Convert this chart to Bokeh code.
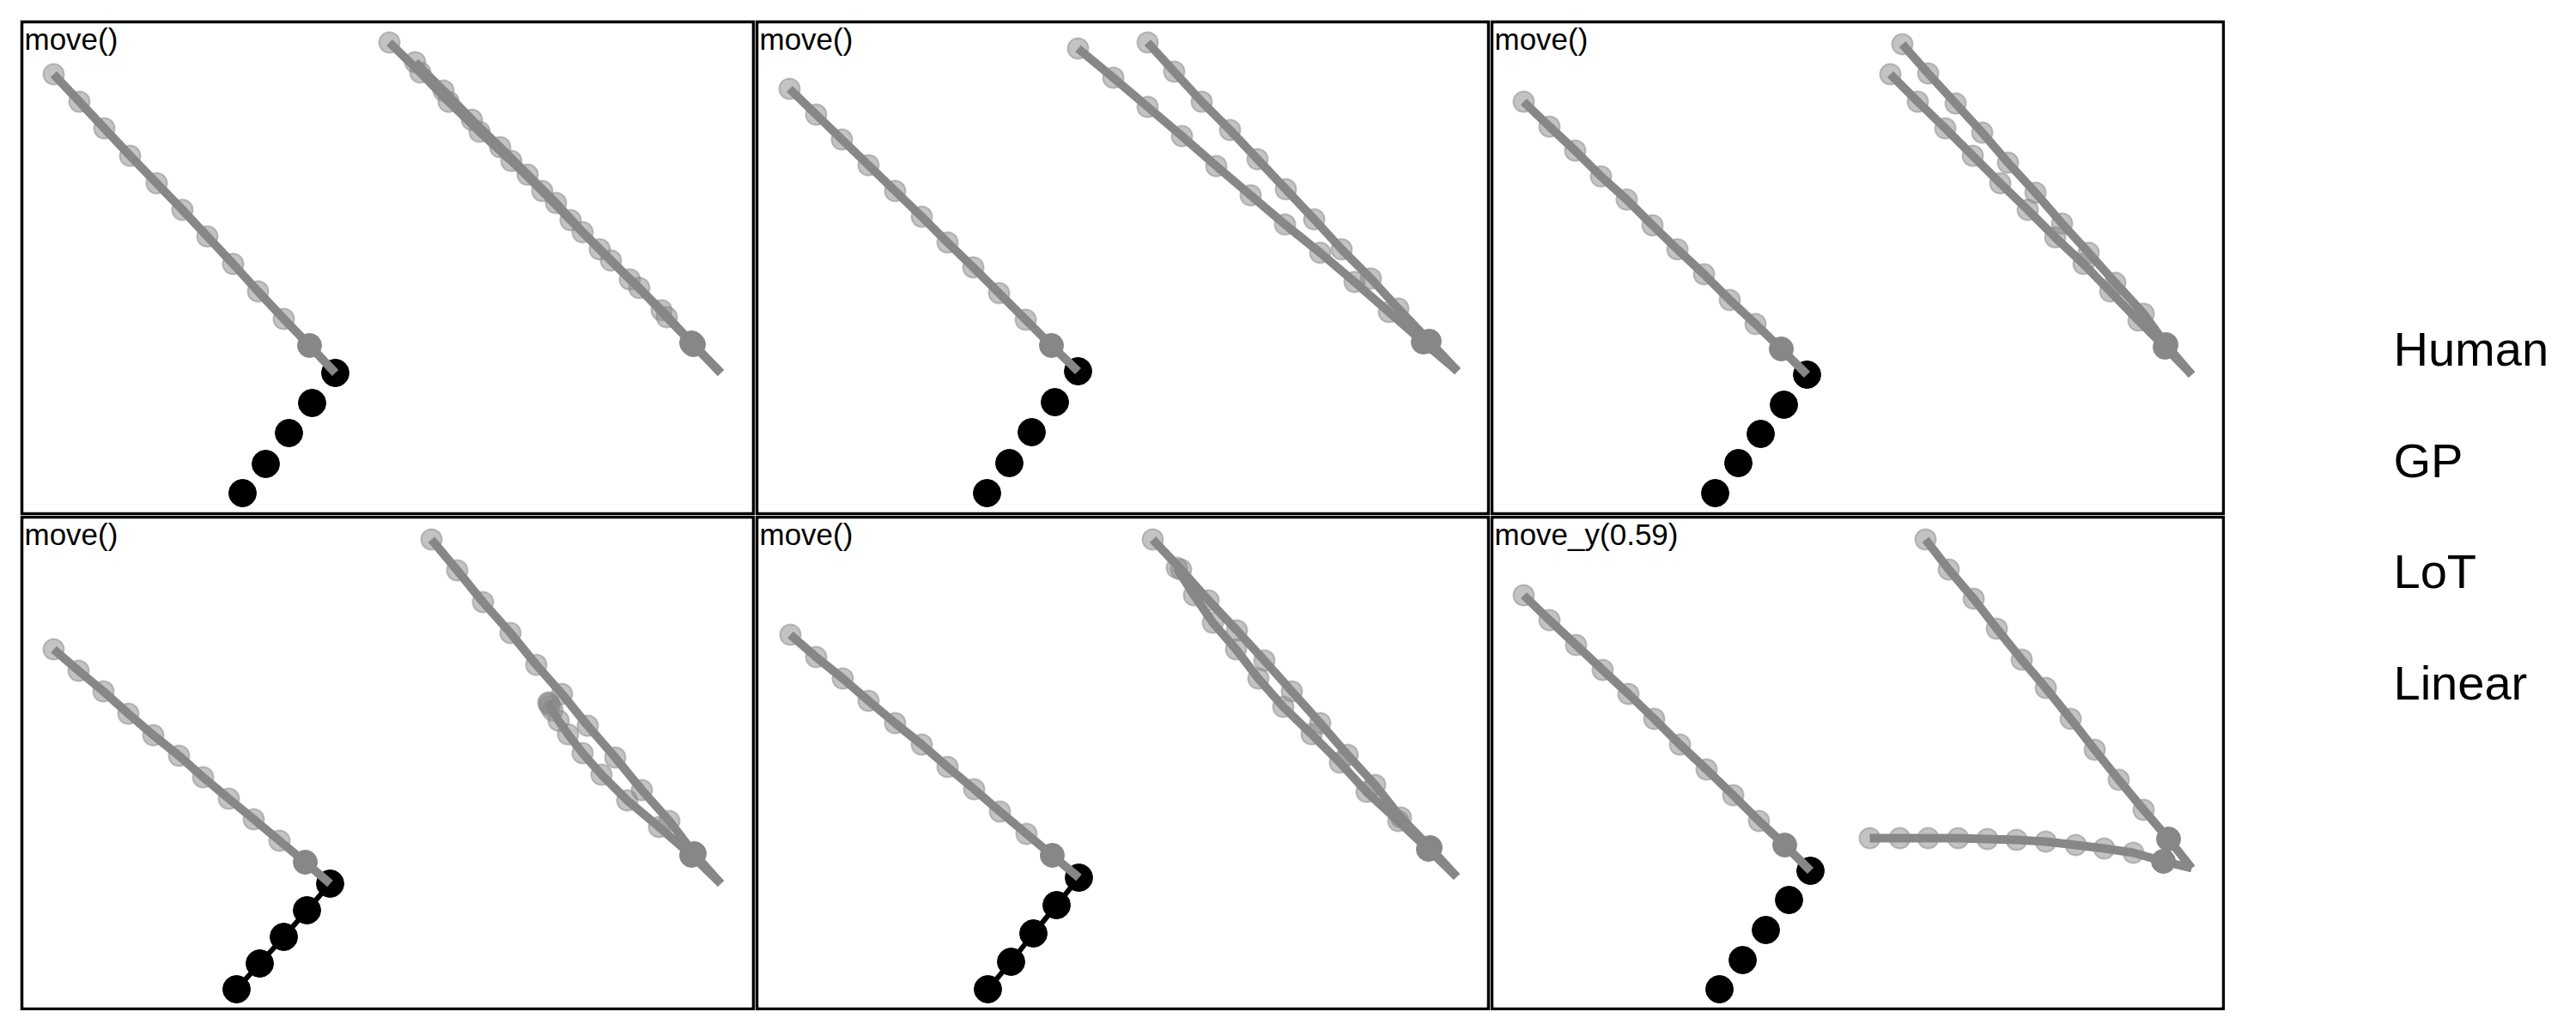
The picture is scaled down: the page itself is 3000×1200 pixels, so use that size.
from bokeh.plotting import figure
from bokeh.layouts import row, column
from bokeh.models import Range1d, Spacer
from bokeh.embed import file_html
from bokeh.resources import INLINE
from bokeh.core.properties import value

# ---------------- data (panel units: x 0..852, y 0..573, y up) ----------------
PANEL_TITLES = ["move()", "move()", "move()", "move()", "move()", "move_y(0.59)"]
LEGEND_LABELS = ["Human", "GP", "LoT", "Linear"]

# observed (human) points, one list per panel
human_x = [
    [257, 284, 311, 338, 365],
    [268, 294, 320, 347, 374],
    [260, 287, 313, 340, 367],
    [250, 277, 305, 332, 359],
    [269, 296, 322, 349, 375],
    [265, 292, 319, 346, 371],
]
human_y = [
    [24, 58, 94, 129, 164],
    [24, 59, 95, 130, 166],
    [24, 59, 93, 127, 162],
    [23, 53, 84, 115, 146],
    [23, 55, 88, 121, 153],
    [23, 57, 92, 127, 161],
]
# panels whose observed points are joined by a visible path
human_joined = [False, False, False, True, True, False]

# trajectories: start point, first prediction, then 10 further predictions
left_x = [
    [365, 335, 305, 275, 246, 216, 187, 157, 126, 96, 67, 37],
    [374, 343, 313, 282, 252, 222, 192, 161, 130, 99, 69, 38],
    [367, 337, 307, 277, 247, 216, 187, 157, 127, 97, 67, 37],
    [359, 330, 300, 270, 241, 211, 183, 153, 124, 95, 66, 37],
    [375, 344, 314, 283, 253, 222, 192, 161, 130, 100, 69, 39],
    [371, 341, 311, 281, 250, 219, 189, 159, 129, 98, 67, 37],
]
left_y = [
    [164, 196, 227, 259, 291, 323, 354, 385, 417, 449, 480, 512],
    [166, 196, 226, 257, 287, 316, 346, 376, 406, 436, 465, 495],
    [162, 192, 221, 249, 279, 308, 336, 366, 393, 423, 451, 480],
    [146, 171, 196, 221, 245, 270, 295, 319, 344, 370, 394, 419],
    [153, 179, 204, 230, 256, 282, 308, 333, 359, 385, 410, 436],
    [161, 191, 219, 249, 279, 308, 338, 367, 395, 424, 453, 482],
]
right_a_x = [
    [814, 780, 745, 708, 673, 639, 606, 570, 533, 497, 464, 428],
    [816, 783, 747, 715, 681, 649, 616, 583, 551, 518, 486, 455],
    [815, 785, 759, 726, 695, 664, 633, 601, 571, 540, 508, 478],
    [814, 783, 754, 722, 691, 659, 629, 599, 569, 537, 507, 477],
    [815, 784, 750, 720, 688, 656, 623, 591, 559, 526, 494, 461],
    [815, 788, 759, 730, 702, 674, 645, 617, 588, 561, 532, 505],
]
right_a_y = [
    [164, 199, 237, 273, 308, 342, 376, 411, 445, 480, 514, 549],
    [166, 201, 239, 274, 308, 343, 378, 413, 447, 480, 515, 549],
    [162, 197, 233, 269, 304, 338, 374, 409, 444, 478, 513, 547],
    [146, 181, 219, 255, 293, 330, 367, 401, 438, 474, 511, 547],
    [154, 188, 223, 261, 296, 333, 370, 406, 441, 476, 512, 547],
    [164, 198, 232, 267, 302, 338, 374, 407, 443, 478, 512, 547],
]
right_b_x = [
    [814, 782, 751, 719, 686, 653, 622, 589, 557, 524, 491, 458],
    [816, 776, 736, 696, 656, 615, 575, 535, 495, 455, 415, 374],
    [815, 784, 753, 720, 689, 656, 624, 592, 560, 528, 496, 464],
    [814, 780, 742, 705, 675, 653, 636, 625, 618, 615, 614, 613],
    [815, 782, 747, 710, 679, 646, 613, 584, 558, 531, 509, 489],
    [815, 782, 747, 713, 680, 645, 611, 577, 543, 508, 475, 440],
]
right_b_y = [
    [164, 197, 229, 263, 295, 328, 362, 395, 427, 459, 493, 526],
    [166, 200, 235, 270, 304, 337, 371, 405, 440, 474, 508, 542],
    [162, 194, 225, 259, 291, 322, 354, 385, 417, 449, 480, 512],
    [146, 179, 212, 243, 273, 298, 320, 336, 348, 353, 356, 357],
    [154, 186, 219, 253, 287, 320, 352, 385, 419, 450, 482, 514],
    [164, 172, 182, 187, 191, 195, 197, 198, 199, 199, 199, 199],
]

# ---------------- styling ----------------
FONT = "Liberation Sans"
GRAY = "#878787"
BORDER = 4
FRAME_W, FRAME_H = 848, 569
PAD0 = 23


def make_panel(i):
    p = figure(width=FRAME_W + 2 * BORDER, height=FRAME_H + 2 * BORDER,
               x_range=Range1d(2, 2 + FRAME_W), y_range=Range1d(2, 2 + FRAME_H),
               output_backend="svg", toolbar_location=None, title=None,
               x_axis_location=None, y_axis_location=None,
               min_border=BORDER, outline_line_color=None)
    p.grid.visible = False
    p.background_fill_color = "white"
    p.border_fill_color = "black"   # draws the panel frame

    # observed points
    if human_joined[i]:
        p.line(human_x[i], human_y[i], line_color="black", line_width=6)
    p.scatter(human_x[i], human_y[i], size=32, color="black")

    trajs = [(left_x[i], left_y[i]), (right_a_x[i], right_a_y[i]),
             (right_b_x[i], right_b_y[i])]
    for tx, ty in trajs:
        p.scatter(tx[2:], ty[2:], size=24, fill_color=GRAY, fill_alpha=0.5,
                  line_color=GRAY, line_alpha=0.5, line_width=2)
    for tx, ty in trajs:
        p.line(tx, ty, line_color=GRAY, line_width=10)
    for tx, ty in trajs:
        p.scatter(tx[1:2], ty[1:2], size=28, color=GRAY)

    p.text(x=[3], y=[553], text=[PANEL_TITLES[i]],
           text_font=value(FONT), text_font_size="35px",
           text_baseline="alphabetic", text_align="left", text_color="black")
    return p


panels = [make_panel(i) for i in range(6)]
grid = column(row(*panels[:3]), row(*panels[3:]))
GRID_H = PAD0 + 2 * (FRAME_H + 2 * BORDER)

# legend column (text-only keys)
LEG_W = 390
leg = figure(width=LEG_W, height=GRID_H, x_range=Range1d(0, LEG_W),
             y_range=Range1d(GRID_H, 0), output_backend="svg",
             toolbar_location=None, title=None,
             x_axis_location=None, y_axis_location=None,
             min_border=0, outline_line_color=None)
leg.grid.visible = False
leg.text(x=[196] * len(LEGEND_LABELS),
         y=[406 + 129.5 * k for k in range(len(LEGEND_LABELS))],
         text=LEGEND_LABELS, text_font=value(FONT), text_font_size="56px",
         text_baseline="alphabetic", text_align="left", text_color="black")

layout = row(Spacer(width=PAD0),
             column(Spacer(height=PAD0), grid),
             leg)

open("out.html", "w").write(file_html(layout, INLINE))
